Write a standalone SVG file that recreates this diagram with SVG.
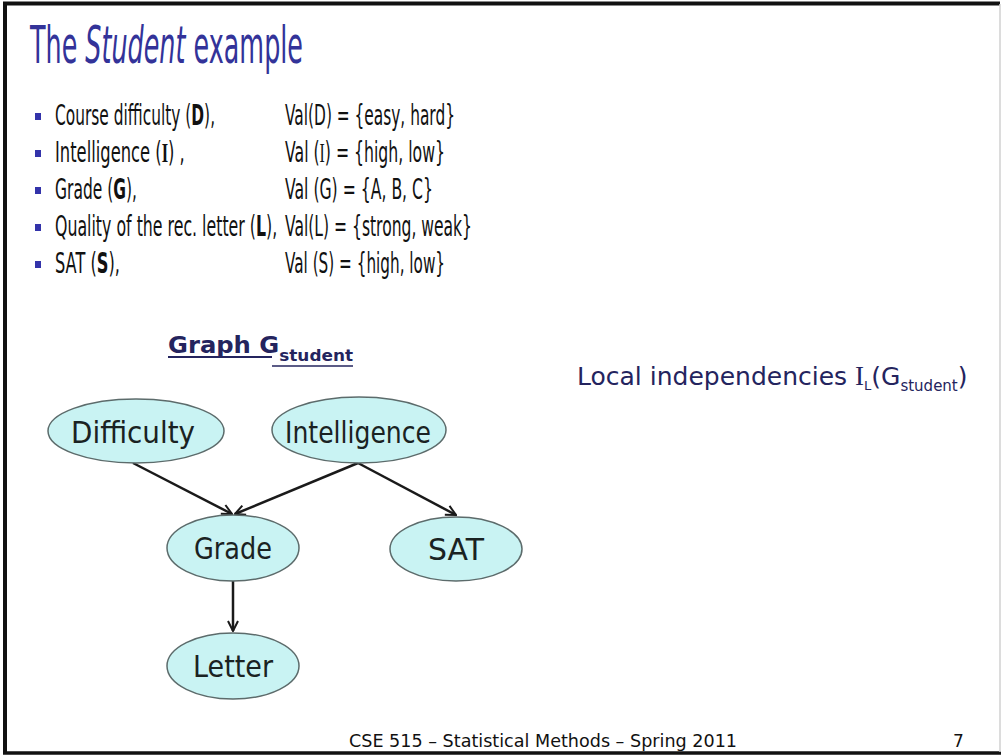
<svg xmlns="http://www.w3.org/2000/svg" width="1003" height="755" viewBox="0 0 1003 755">
<style>
.t{font-family:"DejaVu Sans","Liberation Sans",sans-serif;fill:#111;font-size:28px}
.title{font-family:"DejaVu Sans","Liberation Sans",sans-serif;fill:#333399;font-size:52px}
.b{font-weight:bold}
.sf{font-family:"Liberation Serif","DejaVu Serif",serif}
.node{fill:#c9f3f3;stroke:#5c6b6b;stroke-width:1.5}
.nl{font-family:"DejaVu Sans","Liberation Sans",sans-serif;font-size:30px;fill:#1a2222;text-anchor:middle}
.edge{stroke:#1a1a1a;stroke-width:2.5;fill:none;marker-end:url(#ah)}
.bul{fill:#3333aa}
.navy{fill:#24245e}
</style>
<defs>
<marker id="ah" viewBox="0 0 12 12" refX="11" refY="6" markerWidth="12" markerHeight="12" markerUnits="userSpaceOnUse" orient="auto">
<path d="M1,1 L11,6 L1,11" fill="none" stroke="#1a1a1a" stroke-width="2"/>
</marker>
</defs>
<rect width="1003" height="755" fill="#ffffff"/>
<g id="frame">
<path d="M5,753 L5,3.5 L1000,3.5" fill="none" stroke="#111" stroke-width="4"/>
<path d="M3,753 L1001,753" fill="none" stroke="#111" stroke-width="3.5"/>
<path d="M1000,4 L1000,752" fill="none" stroke="#d0d0d0" stroke-width="1.5"/>
</g>
<g id="title">
<text class="title" transform="translate(30,63) scale(0.5,1)" x="0" y="0" textLength="546" lengthAdjust="spacingAndGlyphs">The <tspan font-style="italic">Student</tspan> example</text>
</g>
<g id="bullets">
<rect class="bul" x="35" y="113" width="6" height="7"/>
<rect class="bul" x="35" y="150" width="6" height="7"/>
<rect class="bul" x="35" y="187" width="6" height="7"/>
<rect class="bul" x="35" y="224" width="6" height="7"/>
<rect class="bul" x="35" y="261" width="6" height="7"/>
<text class="t" transform="translate(55,125) scale(0.55,1)" textLength="291" lengthAdjust="spacingAndGlyphs">Course difficulty (<tspan class="b">D</tspan>),</text>
<text class="t" transform="translate(55,162) scale(0.55,1)" textLength="236" lengthAdjust="spacingAndGlyphs">Intelligence (<tspan class="b sf">I</tspan>) ,</text>
<text class="t" transform="translate(55,199) scale(0.55,1)" textLength="149" lengthAdjust="spacingAndGlyphs">Grade (<tspan class="b">G</tspan>),</text>
<text class="t" transform="translate(55,236) scale(0.55,1)" textLength="404" lengthAdjust="spacingAndGlyphs">Quality of the rec. letter (<tspan class="b">L</tspan>),</text>
<text class="t" transform="translate(55,273) scale(0.55,1)" textLength="118" lengthAdjust="spacingAndGlyphs">SAT (<tspan class="b">S</tspan>),</text>
<text class="t" transform="translate(285,125) scale(0.55,1)" textLength="309" lengthAdjust="spacingAndGlyphs">Val(D) = {easy, hard}</text>
<text class="t" transform="translate(285,162) scale(0.55,1)" textLength="291" lengthAdjust="spacingAndGlyphs">Val (<tspan class="sf">I</tspan>) = {high, low}</text>
<text class="t" transform="translate(285,199) scale(0.55,1)" textLength="269" lengthAdjust="spacingAndGlyphs">Val (G) = {A, B, C}</text>
<text class="t" transform="translate(285,236) scale(0.55,1)" textLength="340" lengthAdjust="spacingAndGlyphs">Val(L) = {strong, weak}</text>
<text class="t" transform="translate(285,273) scale(0.55,1)" textLength="291" lengthAdjust="spacingAndGlyphs">Val (S) = {high, low}</text>
</g>
<g id="graph-title">
<text class="navy" font-family="DejaVu Sans, Liberation Sans, sans-serif" font-weight="bold" x="168" y="353" textLength="185" lengthAdjust="spacingAndGlyphs"><tspan font-size="23">Graph G</tspan><tspan font-size="16" dy="8">student</tspan></text>
<line x1="168" y1="357" x2="272" y2="357" stroke="#24245e" stroke-width="1.8"/>
<line x1="272" y1="366" x2="353" y2="366" stroke="#24245e" stroke-width="1.6"/>
</g>
<g id="local-indep">
<text class="navy" font-family="DejaVu Sans, Liberation Sans, sans-serif" font-size="25" x="577" y="385">Local independencies <tspan class="sf" font-size="27">I</tspan><tspan font-size="13" dy="5">L</tspan><tspan dy="-5">(G</tspan><tspan font-size="15" dy="6">student</tspan><tspan dy="-6">)</tspan></text>
</g>
<g id="connectors">
<line class="edge" x1="133" y1="463" x2="232" y2="514"/>
<line class="edge" x1="358" y1="463" x2="235" y2="514"/>
<line class="edge" x1="358" y1="463" x2="456" y2="515"/>
<line class="edge" x1="233" y1="581" x2="233" y2="631"/>
</g>
<g id="node-difficulty">
<ellipse class="node" cx="136" cy="431" rx="88" ry="32"/>
<text class="nl" x="133" y="443" textLength="124" lengthAdjust="spacingAndGlyphs">Difficulty</text>
</g>
<g id="node-intelligence">
<ellipse class="node" cx="359" cy="430" rx="87" ry="33"/>
<text class="nl" x="358" y="443" textLength="146" lengthAdjust="spacingAndGlyphs">Intelligence</text>
</g>
<g id="node-grade">
<ellipse class="node" cx="233" cy="548" rx="66" ry="33"/>
<text class="nl" x="233" y="559" textLength="78" lengthAdjust="spacingAndGlyphs">Grade</text>
</g>
<g id="node-sat">
<ellipse class="node" cx="456" cy="549" rx="66" ry="32"/>
<text class="nl" x="456" y="560" textLength="56" lengthAdjust="spacingAndGlyphs">SAT</text>
</g>
<g id="node-letter">
<ellipse class="node" cx="233" cy="666" rx="66" ry="33"/>
<text class="nl" x="233" y="677" textLength="80" lengthAdjust="spacingAndGlyphs">Letter</text>
</g>
<g id="footer">
<text class="t" x="349" y="747" fill="#222" style="font-size:17px" textLength="388" lengthAdjust="spacingAndGlyphs">CSE 515 – Statistical Methods – Spring 2011</text>
<text class="t" x="953" y="747" fill="#222" style="font-size:17px">7</text>
</g>
</svg>
